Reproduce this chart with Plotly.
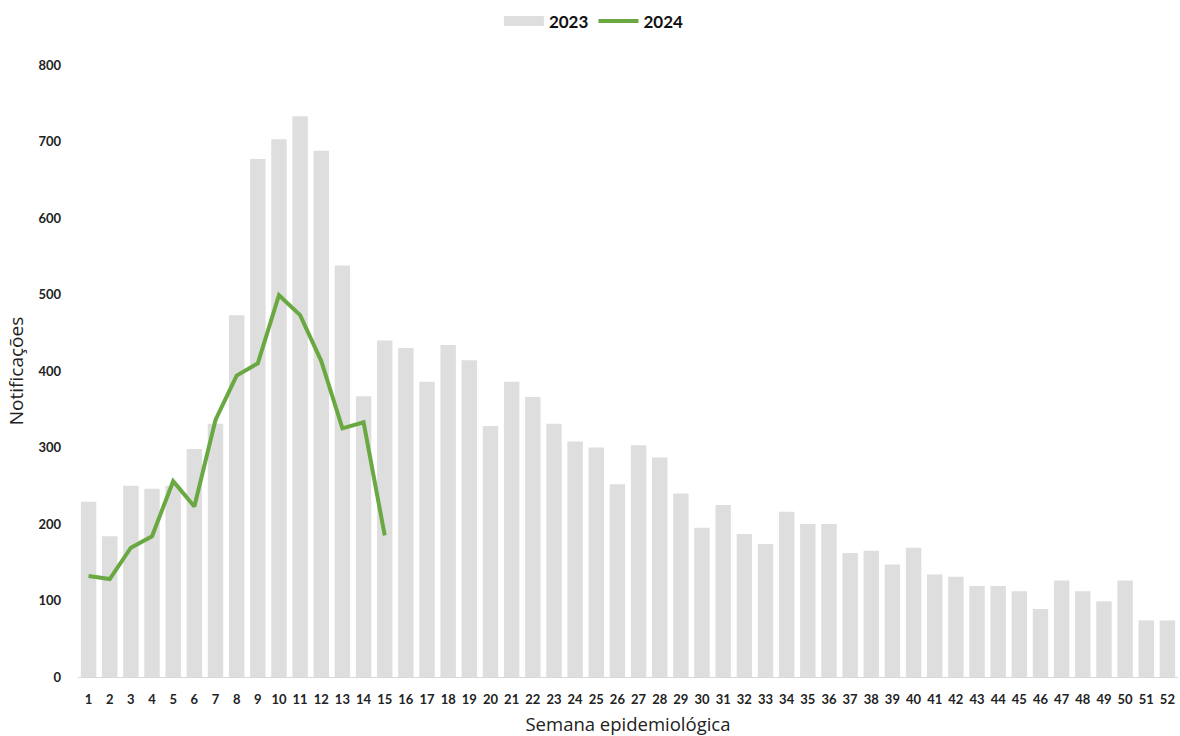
import plotly.graph_objects as go

weeks = list(range(1, 53))
week_labels = [str(w) for w in weeks]

notif_2023 = [229, 184, 250, 246, 250, 298, 331, 473, 677, 703,
              733, 688, 538, 367, 440, 430, 386, 434, 414, 328,
              386, 366, 331, 308, 300, 252, 303, 287, 240, 195,
              225, 187, 174, 216, 200, 200, 162, 165, 147, 169,
              134, 131, 119, 119, 112, 89, 126, 112, 99, 126,
              74, 74]

weeks_2024 = list(range(1, 16))
notif_2024 = [132, 128, 169, 184, 256, 223, 336, 394, 410, 499,
              473, 413, 325, 333, 185]

font_family = "Lato, 'Open Sans', sans-serif"
bar_color = "#dedede"
line_color = "#6aa842"

fig = go.Figure()
fig.add_trace(go.Bar(
    x=weeks, y=notif_2023, name="2023", showlegend=False,
    marker=dict(color=bar_color, line=dict(width=0)),
))
# legend-only entry for the bar series (wide grey swatch as in the reference)
fig.add_trace(go.Scatter(
    x=[None], y=[None], name="2023", mode="lines",
    line=dict(color=bar_color, width=11),
))
fig.add_trace(go.Scatter(
    x=weeks_2024, y=notif_2024, name="2024", mode="lines",
    line=dict(color=line_color, width=4),
))

fig.update_layout(
    width=1180, height=736,
    paper_bgcolor="white", plot_bgcolor="white",
    margin=dict(l=78, r=2, t=65, b=59, autoexpand=False),
    bargap=0.27,
    font=dict(family=font_family, color="#1a1a1a"),
    showlegend=True,
    legend=dict(
        orientation="h", x=0.469, xanchor="center", y=1.071, yanchor="middle",
        font=dict(size=17, family=font_family, weight="bold", color="#111111"),
        itemwidth=40, tracegroupgap=0,
    ),
    xaxis=dict(
        range=[0.5, 52.5], automargin=False,
        tickmode="array", tickvals=weeks, ticktext=week_labels,
        tickfont=dict(size=13, family=font_family, weight="bold", color="#222222"),
        showgrid=False, zeroline=False,
        showline=True, linecolor="#d9d9d9", linewidth=1,
        ticks="", ticklabelstandoff=10,
        title=dict(text="Semana epidemiológica", font=dict(size=18.5, family="'Open Sans', sans-serif", color="#222222"), standoff=14),
    ),
    yaxis=dict(
        range=[0, 800], dtick=100, automargin=False,
        tickfont=dict(size=13, family=font_family, weight="bold", color="#222222"),
        showgrid=False, zeroline=False, showline=False, ticks="",
        ticklabelstandoff=16,
        title=dict(text="Notificações", font=dict(size=19, family="'Open Sans', sans-serif", color="#222222"), standoff=9),
    ),
)

fig.write_html(
    "out.html",
    config={"displayModeBar": False},
    post_script="document.body.style.margin='0';document.body.style.overflow='hidden';",
)
